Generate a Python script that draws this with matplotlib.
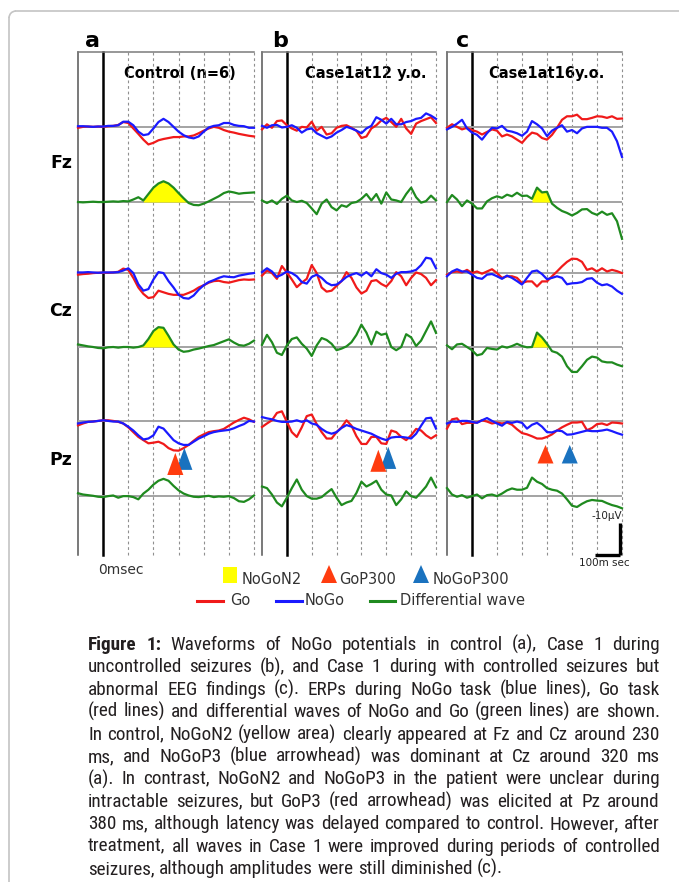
import matplotlib
matplotlib.use("Agg")

import matplotlib.pyplot as plt
from matplotlib import font_manager
from matplotlib.font_manager import FontProperties
from matplotlib.patches import Polygon, Rectangle, Arc
import numpy as np

W, H = 679, 882

# sampling of all traces (ms)
times = np.arange(-100, 601, 20)

panel_letters = ["a", "b", "c"]
panel_titles = ["Control (n=6)", "Case1at12 y.o.", "Case1at16y.o."]
channels = ["Fz", "Cz", "Pz"]

# ---- (a) control, values in uV (drawn upward)
fz_go_a = [-0.3, 0, 0.1, 0, 0.1, 0, 0.2, 0.3, 0.6, 1.5, 1.2, -0.5, -2.2, -4.0, -5.5, -5.0, -4.2, -3.8,
           -3.5, -3.2, -3.2, -3.0, -3.0, -2.7, -2.0, -1.2, -0.5, 0, -0.3, -1.0, -1.5, -1.8, -2.2, -2.5, -2.8, -3.0]
fz_nogo_a = [0.2, 0.2, 0.1, 0, 0.1, 0.1, 0.3, 0.3, 0.5, 1.6, 1.6, 0.5, -1.5, -2.6, -2.3, -0.5, 1.5, 2.5,
             1.5, 0, -1.5, -2.6, -3.3, -3.6, -3.0, -1.5, -0.2, 0.3, 0.5, 1.2, 1.2, 0.6, 0.3, 0.2, -0.3, -0.3]
fz_diff_a = [0, -0.1, 0, 0.1, 0, 0, 0.1, 0.2, 0.1, 0.3, 0.2, 0.8, 1.5, 0.5, 2.5, 4.5, 5.8, 6.5,
             5.8, 4.5, 2.8, 1.2, -0.3, -0.9, -1.0, -0.5, 0.2, 1.0, 1.8, 2.8, 3.3, 3.0, 2.6, 2.8, 2.9, 3.0]
cz_go_a = [-0.5, -0.3, -0.2, 0, 0.1, 0.1, 0.1, 0.2, 0.4, 1.4, 1.0, -1.5, -4.5, -6.5, -7.8, -7.5, -5.5, -6.0,
           -6.5, -6.8, -6.8, -6.8, -6.2, -5.5, -4.5, -3.8, -3.0, -2.5, -2.4, -2.8, -3.0, -2.6, -2.2, -2.0, -2.1, -2.0]
cz_nogo_a = [0.2, 0.2, 0.3, 0.2, 0.1, 0.2, 0.2, 0.2, 0.3, 0.8, 1.5, 0, -3.5, -5.5, -5.0, -2.0, 0.3, 0.0,
             -2.5, -4.5, -6.8, -7.8, -8.0, -7.0, -5.2, -3.8, -2.8, -2.2, -1.5, -1.0, -1.2, -1.3, -0.8, -0.5, -0.2, 0]
cz_diff_a = [0.8, 0.5, 0.2, 0, -0.3, -0.4, -0.1, 0, -0.2, 0, 0, -0.2, 0, 0.5, 2.5, 5.0, 6.2, 6.0,
             3.5, 0.8, -0.8, -1.5, -1.3, -0.8, -0.5, -0.1, 0.3, 0.6, 1.2, 1.8, 2.4, 1.4, 0.6, 0.4, 1.0, 2.0]
pz_go_a = [-1.4, -0.8, -0.3, -0.2, 0, 0.2, 0.2, 0, -0.3, -0.8, -2.0, -3.5, -5.0, -6.0, -7.0, -6.8, -6.5, -7.2,
           -8.5, -9.2, -9.3, -8.5, -7.5, -6.2, -5.0, -4.2, -3.5, -3.2, -3.0, -2.5, -1.5, -0.5, 0.3, 1.0, 0.5, -0.3]
pz_nogo_a = [-0.8, -0.5, -0.3, -0.2, 0, 0.2, 0, -0.2, -0.2, -0.8, -1.8, -3.0, -4.5, -5.8, -5.5, -4.5, -1.8, -2.4,
             -4.2, -6.0, -7.0, -7.5, -7.5, -6.5, -5.5, -4.8, -4.0, -3.5, -3.2, -3.0, -2.8, -2.3, -1.6, -1.0, 0, -0.2]
pz_diff_a = [0.9, 0.5, 0.3, 0.1, -0.2, -0.3, 0, 0.2, -0.5, 0, 0, -0.3, -1.0, 0.8, 2.0, 3.6, 4.8, 5.4,
             4.8, 3.2, 1.8, 0.8, 0.2, -0.2, -0.3, -0.1, 0.1, -0.3, -0.1, -0.2, 0, -0.6, -1.6, -1.8, -1.0, 0.2]

# ---- (b) case 1 at 12 y.o.
fz_go_b = [-0.8, 0.8, -0.3, 1.8, 2.0, 0.5, -0.5, -1.2, 0, -0.2, 1.6, -1.2, 0, -2.4, -2.0, -0.3, 0.3, 0.5,
           -0.3, -1.2, -3.5, -3.0, -0.5, 0.5, 2.0, 2.8, 1.5, 0, 2.5, -0.5, -2.2, 1.0, 1.8, 2.4, 3.0, 1.2]
fz_nogo_b = [0.3, -0.3, 0.5, 0.6, -0.2, 0, 0.5, -0.3, -1.8, -0.8, -0.5, -2.0, -2.8, -3.6, -3.0, -1.8, -1.0, 0,
             -0.5, -1.2, -2.0, -0.5, 0.3, 3.0, 2.2, 1.0, 2.5, 0.8, 0.8, 1.5, 1.8, 2.5, 2.8, 4.2, 3.5, 2.5]
fz_diff_b = [0.5, -0.3, 0.5, -0.6, 1.0, 2.0, 0.5, 0, 0.4, -0.3, -2.0, -3.8, -0.5, 0.8, -1.6, -2.6, -1.0, -1.5,
             -0.3, 0, 1.0, 2.5, 0.5, 2.5, -0.5, 3.0, 0.8, 0.5, 0, 2.5, 4.5, 1.5, -0.2, 0.3, 2.0, 0.5]
cz_go_b = [-0.8, 0.8, 0, -1.8, 2.2, 0.2, -2.0, -4.4, -3.0, -1.8, 2.5, 0, -4.5, -5.8, -5.5, -4.0, -2.5, 0.3,
           -1.5, -4.5, -6.4, -5.5, -2.5, -2.2, -3.4, -4.2, -2.5, 0.3, -1.0, -3.8, -1.5, 0.2, -0.3, -1.5, -3.8, -2.2]
cz_nogo_b = [0.3, 1.5, 0.5, -1.2, -0.5, 0.5, 0, -1.0, -2.8, -3.3, -1.2, -0.5, -1.5, -3.0, -3.8, -3.6, -2.5, -1.2,
             -0.5, 0, -0.8, 0.3, -1.0, 1.2, 0, -0.5, -1.5, -0.2, 0.3, 0.3, 0.5, 1.0, 2.5, 4.8, 4.5, 1.5]
cz_diff_b = [0.7, 3.8, 1.5, -1.8, -2.5, 0.5, 2.5, 3.0, 1.0, -0.5, -2.8, 0.5, 2.8, 2.2, 1.0, -1.0, -0.5, 0.2,
             1.5, 3.8, 7.0, 4.5, 0.8, 4.8, 3.8, 4.2, 0, -1.0, 0, 4.0, 3.0, 0.3, 2.0, 5.0, 8.0, 4.4]
pz_go_b = [-1.9, -0.8, 0.2, 2.5, 3.0, -0.3, -3.5, -5.0, -2.0, 1.5, 2.0, -1.0, -3.5, -5.5, -5.5, -3.5, -2.0, 0.2,
           -1.5, -4.8, -7.2, -7.2, -5.0, -5.0, -7.0, -7.2, -3.0, -3.5, -5.0, -6.0, -4.5, -2.5, -3.0, -4.5, -5.5, -4.5]
pz_nogo_b = [1.2, 0.8, 0.5, 0, -0.3, -0.3, -0.2, 0.2, -0.3, 0.2, -0.8, -1.2, -2.5, -3.5, -4.0, -3.5, -2.2, -1.3,
             -1.8, -2.5, -3.0, -3.5, -4.0, -4.8, -5.5, -6.0, -5.2, -5.0, -5.0, -5.2, -5.5, -4.0, -1.5, 0.8, 1.0, -2.4]
pz_diff_b = [3.0, 2.5, 0.5, -2.0, -3.2, -0.5, 2.5, 5.2, 2.0, 0, -0.8, -0.8, -0.3, 1.0, 2.2, -0.5, -2.8, -2.0,
             -1.5, 1.0, 4.5, 3.0, 3.8, 4.8, 2.0, 0.5, 0.2, -2.8, -1.0, 1.5, 0, -0.5, 1.2, 3.0, 5.8, 2.8]

# ---- (c) case 1 at 16 y.o.
fz_go_c = [-0.3, 0.8, 0, -0.8, -0.3, -1.0, -1.5, -2.4, -1.6, -0.8, -1.2, -3.0, -2.4, -3.0, -4.0, -5.0, -3.2, -1.8,
           -2.2, -3.5, -4.0, -2.5, -0.3, 2.2, 3.3, 3.3, 3.8, 2.4, 2.4, 2.8, 3.3, 3.2, 2.8, 3.3, 2.5, 2.6]
fz_nogo_c = [-0.8, 0, 1.0, 2.2, -0.5, -1.8, -2.5, -4.0, -2.0, -0.3, -0.5, 0.3, -1.2, -1.5, -2.0, -2.8, -1.5, 1.8,
             0.8, -0.5, -2.9, -1.2, -0.3, 0.5, -1.5, -1.0, -2.0, -0.5, 0, 0, 0, -0.3, -0.3, -1.5, -4.5, -9.4]
fz_diff_c = [0, 2.2, 0.8, -1.3, 0.5, -0.5, -2.0, -2.0, 0.2, 1.2, 1.8, 1.3, 2.3, 1.8, 2.9, 1.9, 2.0, 1.0,
             4.5, 3.0, 3.2, -0.5, -1.8, -2.8, -3.4, -4.2, -3.4, -2.3, -2.2, -3.4, -4.0, -3.0, -4.0, -3.5, -6.0, -11.5]
cz_go_c = [-0.5, 0.3, 0.5, 0.2, 1.0, 0, 0.5, -0.2, 0.5, 1.2, 0, -1.5, -1.0, -1.0, -1.5, -3.1, -2.6, -2.6,
           -4.2, -2.6, -2.6, -1.0, 0.5, 2.1, 3.5, 4.5, 4.4, 3.5, 1.0, 1.5, 0.5, 1.5, 0.5, 1.0, 0.6, 0]
cz_nogo_c = [-1.0, 0.5, 1.2, 0.5, 0.5, -0.5, -1.5, -1.8, -0.5, -0.3, -1.0, -1.8, -0.8, -1.5, -2.5, -3.6, -1.5, 0.5,
             0.8, -0.3, -1.9, -1.5, -1.0, -1.5, -3.5, -3.2, -3.1, -2.8, -1.8, -1.6, -3.0, -3.8, -3.5, -4.2, -5.5, -6.5]
cz_diff_c = [0.5, -0.7, 0.8, 1.0, 0, -1.0, -2.6, -2.2, -0.3, -0.6, -0.8, 0.2, -0.2, 0.3, 1.0, 0.3, -0.1, 0,
             4.5, 3.0, 1.0, -1.3, -1.8, -3.0, -6.0, -7.8, -7.8, -6.0, -4.0, -3.0, -3.3, -4.5, -4.8, -4.8, -5.5, -6.0]
pz_go_c = [-2.4, 0.5, 0.8, -1.0, -0.6, -0.6, -0.5, 0.2, -0.2, -0.8, -0.5, -0.8, -0.5, -1.2, -2.6, -3.8, -4.2, -4.8,
           -5.5, -5.5, -5.0, -4.2, -3.0, -2.0, -1.2, -0.5, -0.5, -0.3, -2.9, -2.2, -1.0, -0.8, -1.3, -0.5, -0.6, -0.8]
pz_nogo_c = [-0.8, -0.2, -0.3, 0, 0, -0.3, -0.6, 0.2, 0.9, 0, -0.8, -1.5, -0.3, -0.6, -0.2, -0.6, -2.4, -1.2,
             -0.6, -1.8, -3.5, -3.6, -3.0, -3.2, -4.3, -4.2, -3.8, -3.4, -3.0, -3.2, -3.2, -3.0, -2.7, -3.2, -3.8, -4.3]
pz_diff_c = [2.5, 0.5, -0.2, 0.3, -0.5, 0, 0.5, -0.7, 0.3, 0.5, 0, 0.8, 1.8, 2.4, 2.0, 2.0, 2.6, 5.8,
             4.5, 3.8, 2.5, 2.0, 1.7, 0.8, -1.0, -3.0, -3.4, -2.4, -1.6, -1.2, -1.4, -1.5, -2.2, -2.8, -3.2, -3.8]

# NoGoN2 yellow area windows (ms), per panel: Fz, Cz
n2_fz = [(160, 340), None, (240, 300)]
n2_cz = [(160, 300), None, (240, 320)]

# Pz arrowheads: latency (ms) and tip level (uV relative to baseline)
gop300_lat = [287, 368, 294]
gop300_tip = [-10.0, -9.0, -7.5]
nogop300_lat = [323, 408, 391]
nogop300_tip = [-8.4, -8.1, -7.5]

caption_lines = [
    "Figure 1: Waveforms of NoGo potentials in control (a), Case 1 during",
    "uncontrolled seizures (b), and Case 1 during with controlled seizures but",
    "abnormal EEG findings (c). ERPs during NoGo task (blue lines), Go task",
    "(red lines) and differential waves of NoGo and Go (green lines) are shown.",
    "In control, NoGoN2 (yellow area) clearly appeared at Fz and Cz around 230",
    "ms, and NoGoP3 (blue arrowhead) was dominant at Cz around 320 ms",
    "(a). In contrast, NoGoN2 and NoGoP3 in the patient were unclear during",
    "intractable seizures, but GoP3 (red arrowhead) was elicited at Pz around",
    "380 ms, although latency was delayed compared to control. However, after",
    "treatment, all waves in Case 1 were improved during periods of controlled",
    "seizures, although amplitudes were still diminished (c).",
]

panels = [
    [(fz_go_a, fz_nogo_a, fz_diff_a), (cz_go_a, cz_nogo_a, cz_diff_a), (pz_go_a, pz_nogo_a, pz_diff_a)],
    [(fz_go_b, fz_nogo_b, fz_diff_b), (cz_go_b, cz_nogo_b, cz_diff_b), (pz_go_b, pz_nogo_b, pz_diff_b)],
    [(fz_go_c, fz_nogo_c, fz_diff_c), (cz_go_c, cz_nogo_c, cz_diff_c), (pz_go_c, pz_nogo_c, pz_diff_c)],
]

RED, BLUE, GREEN = "#f01a1a", "#1a1aff", "#1f8a1f"
TRI_RED, TRI_BLUE = "#ff3c0f", "#1a72bf"
GRAY = "#a3a3a3"

# layout in pixels
panel_x = [(78, 254), (262, 436), (447, 622)]
panel_top, panel_bot = 52, 555
px_per_uv = 3.2
ytop = (panel_bot - panel_top) / px_per_uv
pair_off = [133.8, 88.1, 41.9]
diff_off = [110.3, 65.0, 18.4]

fig = plt.figure(figsize=(W / 100, H / 100), dpi=100)

# overlay in pixel units for border, legend and caption
ov = fig.add_axes([0, 0, 1, 1])
ov.set_xlim(0, W)
ov.set_ylim(H, 0)
ov.axis("off")

# page border with rounded corner
ov.plot([9, 9], [18, H + 5], color="#c4c4c4", lw=1.2)
ov.plot([16, W + 5], [11, 11], color="#c4c4c4", lw=1.2)
ov.add_patch(Arc((16, 18), 14, 14, theta1=180, theta2=270, color="#c4c4c4", lw=1.2))

for k, (x0, x1) in enumerate(panel_x):
    ax = fig.add_axes([x0 / W, 1 - panel_bot / H, (x1 - x0) / W, (panel_bot - panel_top) / H])
    ax.set_xlim(-100, 600)
    ax.set_ylim(0, ytop)
    ax.axis("off")

    for g in range(100, 601, 100):
        ax.plot([g, g], [0, ytop], color="#8f8f8f", lw=0.8, ls=(0, (2.5, 2.5)), clip_on=False)
    ax.plot([-100, -100], [0, ytop], color="#555555", lw=1.1, clip_on=False)
    ax.plot([0, 0], [0, ytop], color="black", lw=1.8, clip_on=False)
    ax.plot([-100, 600], [ytop, ytop], color="#7a7a7a", lw=1.1, clip_on=False)

    for ci, (go, nogo, diff) in enumerate(panels[k]):
        p0, d0 = pair_off[ci], diff_off[ci]
        ax.plot([-100, 600], [p0, p0], color=GRAY, lw=1.4, zorder=2)
        ax.plot([-100, 600], [d0, d0], color=GRAY, lw=1.4, zorder=2)
        diff = np.array(diff)
        win = [n2_fz, n2_cz, [None, None, None]][ci][k]
        if win is not None:
            m = (times >= win[0]) & (times <= win[1])
            ax.fill_between(times, d0, d0 + diff, where=m & (diff > 0), interpolate=True,
                            color="#ffff00", lw=0, zorder=3)
        ax.plot(times, p0 + np.array(go), color=RED, lw=1.6, zorder=4, clip_on=False)
        ax.plot(times, p0 + np.array(nogo), color=BLUE, lw=1.6, zorder=5, clip_on=False)
        ax.plot(times, d0 + diff, color=GREEN, lw=1.6, zorder=4, clip_on=False)

    # arrowheads at Pz
    hw = 32
    th = 6.9 if k < 2 else 5.8
    p0 = pair_off[2]
    for lat, tip, col, z in [(nogop300_lat[k], nogop300_tip[k], TRI_BLUE, 6),
                             (gop300_lat[k], gop300_tip[k], TRI_RED, 7)]:
        ax.add_patch(Polygon([(lat - hw, p0 + tip - th), (lat + hw, p0 + tip - th), (lat, p0 + tip)],
                             closed=True, color=col, lw=0, zorder=z))

    if k == 2:
        # scale bar: 10 uV, 100 ms
        ax.plot([590, 590], [0, 10], color="black", lw=2.4, clip_on=False, solid_capstyle="butt")
        ax.plot([490, 591], [0, 0], color="black", lw=2.4, clip_on=False, solid_capstyle="butt")

# panel letters and titles
letter_x = [93, 280, 463]
title_x = [180, 366, 546]
for k in range(3):
    ov.text(letter_x[k], 47, panel_letters[k], fontsize=16, weight="bold", ha="center", va="baseline")
    ov.text(title_x[k], 78, panel_titles[k], fontsize=10.5, weight="bold", ha="center", va="baseline")

# channel labels
for name, yc in zip(channels, [163, 311, 460]):
    ov.text(72, yc, name, fontsize=12.5, weight="bold", ha="right", va="center")

ov.text(121, 574, "0msec", fontsize=10, color="#333333", ha="center", va="baseline")
ov.text(604, 566, "100m sec", fontsize=7.5, color="#222222", ha="center", va="baseline")
ov.text(622, 519, "-10\u00b5V", fontsize=7.5, color="#222222", ha="right", va="baseline")

# legend
ov.add_patch(Rectangle((223, 567), 14, 16, color="#ffff00", lw=0))
ov.text(242, 584, "NoGoN2", fontsize=10.5, color="#333333", va="baseline")
ov.add_patch(Polygon([(321, 583), (337, 583), (329, 565)], closed=True, color=TRI_RED, lw=0))
ov.text(339, 584, "GoP300", fontsize=10.5, color="#333333", va="baseline")
ov.add_patch(Polygon([(413, 583), (429, 583), (421, 565)], closed=True, color=TRI_BLUE, lw=0))
ov.text(433, 584, "NoGoP300", fontsize=10.5, color="#333333", va="baseline")
for (xa, xb), col, lab, xt in [((197, 223), RED, "Go", 230), ((276, 302), BLUE, "NoGo", 305),
                               ((370, 395), GREEN, "Differential wave", 400)]:
    ov.plot([xa, xb], [601, 601], color=col, lw=2.2)
    ov.text(xt, 605, lab, fontsize=10.5, color="#333333", va="baseline")


# caption font: a narrow sans if one is installed, else Liberation Sans
def find_font(keys):
    for f in font_manager.fontManager.ttflist:
        fn = f.fname.replace(" ", "").replace("-", "").lower()
        if any(k in fn for k in keys):
            return f.fname
    return None


reg_path = find_font(["liberationsansnarrowregular", "robotocondensedregular", "arialnarrow.ttf"])
bold_path = find_font(["liberationsansnarrowbold.", "robotocondensedbold.", "arialnarrowbold"])
if reg_path and bold_path:
    cap_fp = {"normal": FontProperties(fname=reg_path), "bold": FontProperties(fname=bold_path)}
else:
    cap_fp = {"normal": FontProperties(family="Liberation Sans"),
              "bold": FontProperties(family="Liberation Sans", weight="bold")}

renderer = fig.canvas.get_renderer()
cap_left, cap_right = 88, 660


def text_width(s, size, weight="normal"):
    fp = cap_fp[weight].copy()
    fp.set_size(size)
    t = ov.text(0, 0, s, fontproperties=fp)
    w = t.get_window_extent(renderer).width
    t.remove()
    return w


# size the caption so that the longest line just fills the column
cap_size = 14
space = text_width("a a", cap_size) - text_width("aa", cap_size)
natural = max(sum(text_width(w, cap_size) for w in ln.split()) + space * (len(ln.split()) - 1)
              for ln in caption_lines)
cap_size = min(cap_size * (cap_right - cap_left) / natural * 0.99, 15.5)
space = text_width("a a", cap_size) - text_width("aa", cap_size)

for i, ln in enumerate(caption_lines):
    words = ln.split()
    weights = ["bold" if (i == 0 and j < 2) else "normal" for j in range(len(words))]
    widths = [text_width(w, cap_size, wt) for w, wt in zip(words, weights)]
    if i < len(caption_lines) - 1:
        gap = (cap_right - cap_left - sum(widths)) / (len(words) - 1)
    else:
        gap = space
    x = cap_left
    yb = 650 + 22.4 * i
    for w, wt, ww in zip(words, weights, widths):
        fp = cap_fp[wt].copy()
        fp.set_size(cap_size)
        ov.text(x, yb, w, fontproperties=fp, color="#231f20", va="baseline")
        x += ww + gap

fig.savefig("out.png", dpi=100)
